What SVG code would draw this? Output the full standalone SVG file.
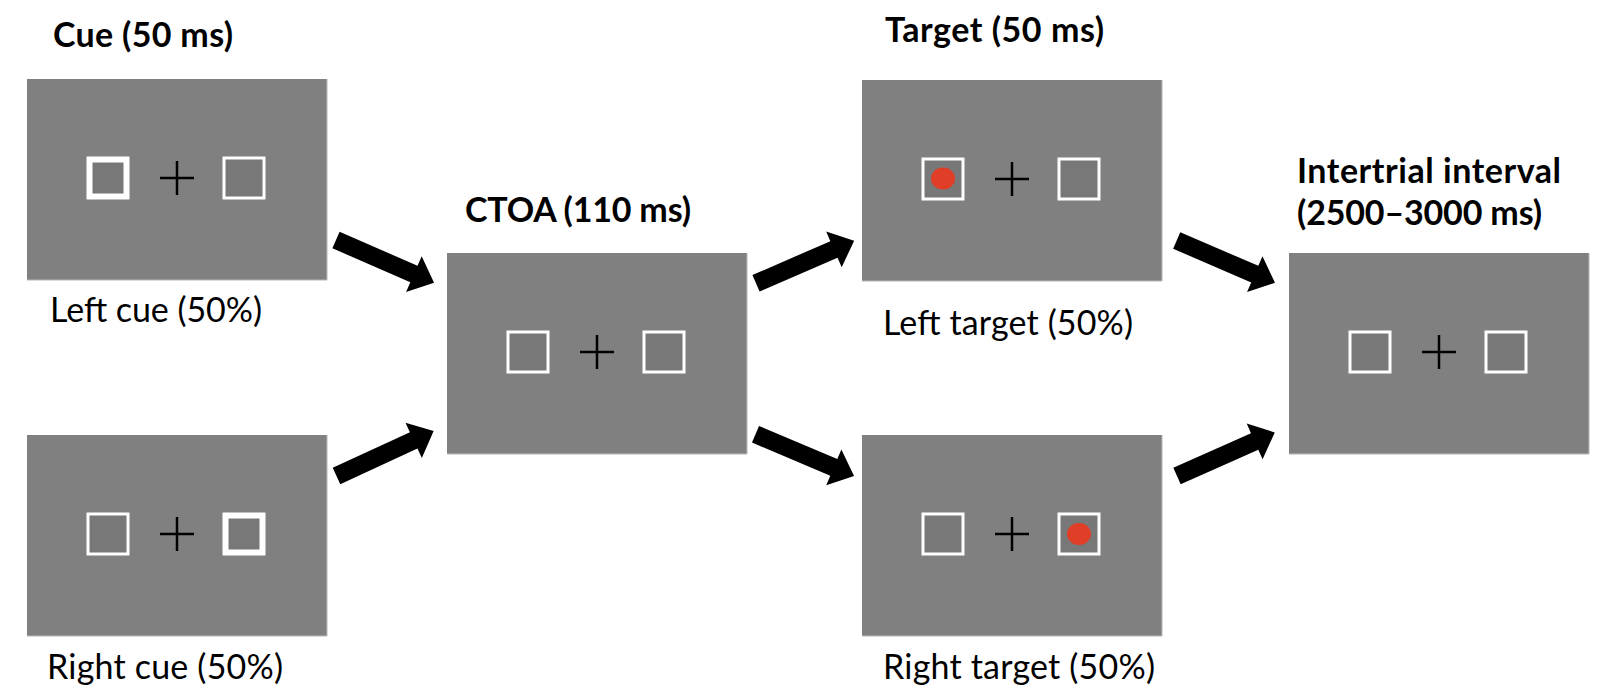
<svg xmlns="http://www.w3.org/2000/svg" xmlns:xlink="http://www.w3.org/1999/xlink" width="1597" height="686" viewBox="0 0 1597 686">
  <style>
    .screen { fill: #808080; }
    .edge { fill: none; stroke: #b8b8b8; stroke-width: 1; }
    .box { fill: #787878; stroke: #ffffff; stroke-width: 3; }
    .box-cued { fill: #787878; stroke: #ffffff; stroke-width: 6; }
    .fix { fill: none; stroke: #000000; stroke-width: 2.5; }
    .dot { fill: #e03e27; }
    .title { font-family: Lato, "Open Sans", "Liberation Sans", sans-serif; font-weight: bold; font-size: 34px; fill: #000000; }
    .label { font-family: Lato, "Open Sans", "Liberation Sans", sans-serif; font-size: 34px; fill: #000000; }
    .arrow { fill: #000000; }
  </style>
  <defs>
    <!-- blank display: gray field with light right/bottom edge -->
    <g id="display">
      <rect class="screen" width="300" height="201"/>
      <path class="edge" d="M300,0 V201 H0"/>
    </g>
    <!-- fixation cross at screen centre -->
    <path id="cross" class="fix" d="M133,99 H167 M150,82 V116"/>
    <!-- placeholder boxes either side of fixation -->
    <rect id="boxL" class="box" x="61" y="79" width="40" height="40"/>
    <rect id="boxR" class="box" x="197" y="79" width="40" height="40"/>
    <!-- block arrow, tail at origin, pointing along +x -->
    <path id="arrow" class="arrow" d="M0,-9 H85 V-19.5 L107,0 L85,19.5 V9 H0 Z"/>
  </defs>

  <rect width="1597" height="686" fill="#ffffff"/>

  <!-- Cue, left -->
  <g id="cue-left">
    <text class="title" x="53" y="47" textLength="180">Cue (50 ms)</text>
    <g transform="translate(27,79)">
      <use xlink:href="#display"/>
      <rect class="box-cued" x="62.5" y="80.5" width="37" height="37"/>
      <use xlink:href="#cross"/>
      <use xlink:href="#boxR"/>
    </g>
    <text class="label" x="50" y="322" textLength="212">Left cue (50%)</text>
  </g>

  <!-- Cue, right -->
  <g id="cue-right">
    <g transform="translate(27,435)">
      <use xlink:href="#display"/>
      <use xlink:href="#boxL"/>
      <use xlink:href="#cross"/>
      <rect class="box-cued" x="198.5" y="80.5" width="37" height="37"/>
    </g>
    <text class="label" x="47" y="679" textLength="236">Right cue (50%)</text>
  </g>

  <!-- Cue-target onset asynchrony -->
  <g id="ctoa">
    <text class="title" x="465" y="222" textLength="226">CTOA (110 ms)</text>
    <g transform="translate(447,253)">
      <use xlink:href="#display"/>
      <use xlink:href="#boxL"/>
      <use xlink:href="#cross"/>
      <use xlink:href="#boxR"/>
    </g>
  </g>

  <!-- Target, left -->
  <g id="target-left">
    <text class="title" x="885" y="42" textLength="219">Target (50 ms)</text>
    <g transform="translate(862,80)">
      <use xlink:href="#display"/>
      <use xlink:href="#boxL"/>
      <ellipse class="dot" cx="81" cy="98.5" rx="12" ry="11"/>
      <use xlink:href="#cross"/>
      <use xlink:href="#boxR"/>
    </g>
    <text class="label" x="883" y="335" textLength="250">Left target (50%)</text>
  </g>

  <!-- Target, right -->
  <g id="target-right">
    <g transform="translate(862,435)">
      <use xlink:href="#display"/>
      <use xlink:href="#boxL"/>
      <use xlink:href="#cross"/>
      <use xlink:href="#boxR"/>
      <ellipse class="dot" cx="217" cy="99" rx="12" ry="11"/>
    </g>
    <text class="label" x="883" y="679" textLength="272">Right target (50%)</text>
  </g>

  <!-- Intertrial interval -->
  <g id="iti">
    <text class="title" x="1297" y="183" textLength="264">Intertrial interval</text>
    <text class="title" x="1297" y="225" textLength="245">(2500–3000 ms)</text>
    <g transform="translate(1289,253)">
      <use xlink:href="#display"/>
      <use xlink:href="#boxL"/>
      <use xlink:href="#cross"/>
      <use xlink:href="#boxR"/>
    </g>
  </g>

  <!-- Connectors -->
  <g id="connectors">
    <use xlink:href="#arrow" transform="translate(336,240) rotate(23.6)"/>
    <use xlink:href="#arrow" transform="translate(336.5,476) rotate(-24.8)"/>
    <use xlink:href="#arrow" transform="translate(756,283.3) rotate(-23.5)"/>
    <use xlink:href="#arrow" transform="translate(755.5,434.3) rotate(22.9)"/>
    <use xlink:href="#arrow" transform="translate(1176.7,240.5) rotate(23.3)"/>
    <use xlink:href="#arrow" transform="translate(1177,476) rotate(-24)"/>
  </g>
</svg>
